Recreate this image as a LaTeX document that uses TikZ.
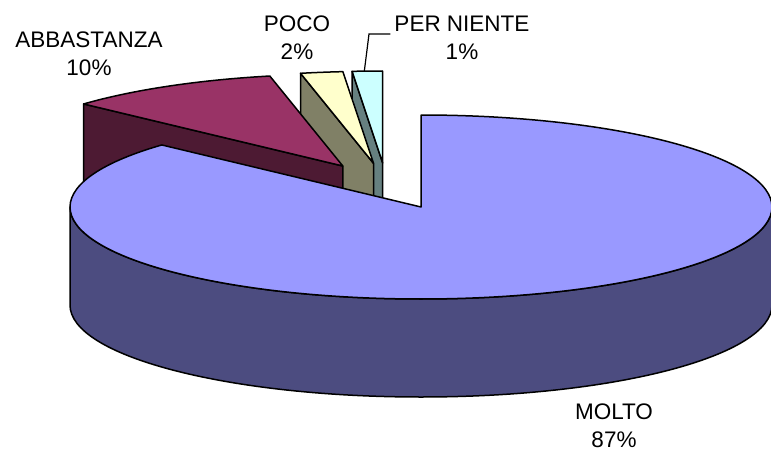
\documentclass[tikz,border=0pt]{standalone}
\usepackage{fontspec}
\setmainfont{Liberation Sans}
\usetikzlibrary{calc}
\definecolor{moltotop}{HTML}{9999FF}
\definecolor{moltoside}{HTML}{4C4C80}
\definecolor{abbtop}{HTML}{993366}
\definecolor{abbside}{HTML}{4D1A33}
\definecolor{pocotop}{HTML}{FFFFCC}
\definecolor{pocoside}{HTML}{808066}
\definecolor{pntop}{HTML}{CCFFFF}
\definecolor{pnside}{HTML}{668080}
\begin{document}
\begin{tikzpicture}[x=1pt,y=1pt,
  face/.style={draw=black,line width=1.5pt,line join=round},
  lbl/.style={font=\fontsize{22.5}{28}\selectfont,align=center,inner sep=0pt},
  leader/.style={draw=black,line width=1.2pt},
  ell/.style={x radius=351pt,y radius=92pt}]
\useasboundingbox (0,0) rectangle (771,-452);
% slice centres (exploded)
\coordinate (cN) at (382.7,-163);
\coordinate (cP) at (373.5,-163.3);
\coordinate (cA) at (342.8,-166);
\coordinate (cM) at (421,-207);
% PER NIENTE (90..95)
\coordinate (n95) at ($(cN)+(95:351pt and 92pt)$);
\coordinate (n90) at ($(cN)+(90:351pt and 92pt)$);
\fill[pnside,face] (cN) -- (n95) -- ++(0,-98) -- ($(cN)+(0,-98)$) -- cycle;
\fill[pntop,face] (cN) -- (n90) arc[start angle=90,end angle=95,ell] -- cycle;
% POCO (95..102)
\coordinate (p95) at ($(cP)+(95:351pt and 92pt)$);
\coordinate (p102) at ($(cP)+(102:351pt and 92pt)$);
\fill[pocoside,face] (cP) -- (p102) -- ++(0,-98) -- ($(cP)+(0,-98)$) -- cycle;
\fill[pocotop,face] (cP) -- (p95) arc[start angle=95,end angle=102,ell] -- cycle;
% ABBASTANZA (102..137.6)
\coordinate (a102) at ($(cA)+(102:351pt and 92pt)$);
\coordinate (a137) at ($(cA)+(137.6:351pt and 92pt)$);
\fill[abbside,face] (cA) -- (a137) -- ++(0,-98) -- ($(cA)+(0,-98)$) -- cycle;
\fill[abbtop,face] (cA) -- (a102) arc[start angle=102,end angle=137.6,ell] -- cycle;
% MOLTO (137.6..450)
\coordinate (m180) at ($(cM)+(180:351pt and 92pt)$);
\coordinate (m137) at ($(cM)+(137.6:351pt and 92pt)$);
\fill[moltoside,face] (m180) arc[start angle=180,end angle=360,ell]
  -- ++(0,-98) arc[start angle=360,end angle=180,ell] -- cycle;
\fill[moltotop,face] (cM) -- (m137) arc[start angle=137.6,end angle=450,ell] -- cycle;
% labels
\node[lbl] (labA) at (89,-53.7) {ABBASTANZA\\10\%};
\node[lbl] (labP) at (297,-37.5) {POCO\\2\%};
\node[lbl] (labN) at (462,-37.5) {PER NIENTE\\1\%};
\node[lbl] (labM) at (614,-426) {MOLTO\\87\%};
% leader for PER NIENTE
\coordinate (nk) at (369,-34);
\coordinate (nt) at ($(cN)+(93:351pt and 92pt)$);
\draw[leader] ([xshift=-4pt,yshift=3.5pt]labN.west) -- (nk) -- (nt);
\end{tikzpicture}
\end{document}
